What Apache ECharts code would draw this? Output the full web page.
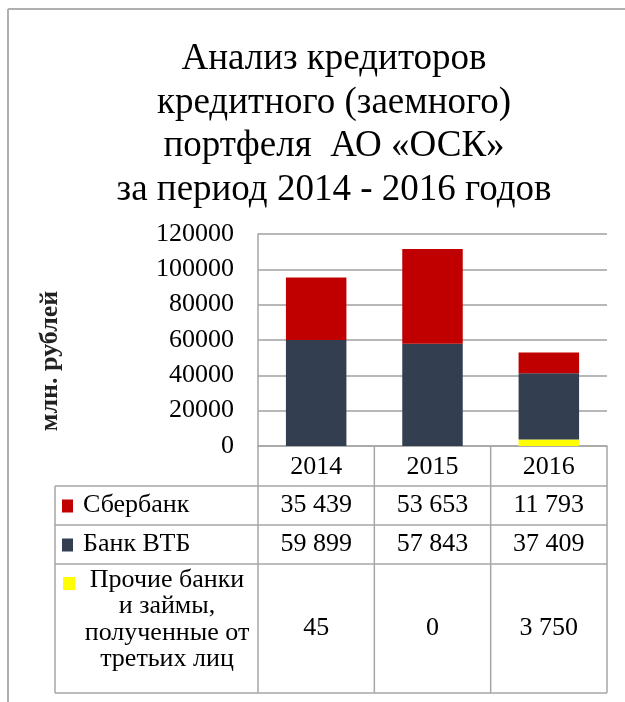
<!DOCTYPE html>
<html><head><meta charset="utf-8">
<script src="https://cdn.jsdelivr.net/npm/echarts@6/dist/echarts.min.js"></script>
<style>html,body{margin:0;padding:0;background:#fff}#c{width:625px;height:702px}</style>
</head><body><div id="c"></div>
<script>
const years = ['2014', '2015', '2016'];
const sberbank = [35439, 53653, 11793];
const vtb = [59899, 57843, 37409];
const other = [45, 0, 3750];
const seriesNames = ['Сбербанк', 'Банк ВТБ', 'Прочие банки\nи займы,\nполученные от\nтретьих лиц'];
const colors = ['#c00000', '#333f50', '#ffff00'];
const yTicks = [0, 20000, 40000, 60000, 80000, 100000, 120000];

const FONT = '"Liberation Serif", "Times New Roman", serif';
const chart = echarts.init(document.getElementById('c'), null, {renderer: 'canvas'});
const fmt = n => String(n).replace(/\B(?=(\d{3})+(?!\d))/g, ' ');

const L = 258, R = 607, T = 234, B = 446;
const tabLeft = 55;
const rowLines = [486, 525, 564, 693];
const colW = (R - L) / years.length;
const lineColor = '#a6a6a6';
const FS = 26;

const graphics = [];
graphics.push({type: 'line', shape: {x1: 8, y1: 9, x2: 625, y2: 9}, style: {stroke: '#b0b0b0', lineWidth: 2}});
graphics.push({type: 'line', shape: {x1: 8, y1: 9, x2: 8, y2: 702}, style: {stroke: '#b0b0b0', lineWidth: 2}});
rowLines.forEach(y => graphics.push({type: 'line', shape: {x1: tabLeft, y1: y, x2: R, y2: y}, style: {stroke: lineColor, lineWidth: 1.5}}));
graphics.push({type: 'line', shape: {x1: tabLeft, y1: rowLines[0], x2: tabLeft, y2: rowLines[3]}, style: {stroke: lineColor, lineWidth: 1.5}});
for (let i = 0; i <= years.length; i++) {
  const x = L + colW * i;
  graphics.push({type: 'line', shape: {x1: x, y1: B, x2: x, y2: rowLines[3]}, style: {stroke: lineColor, lineWidth: 1.5}});
}
const rowData = [sberbank, vtb, other];
const rowCenters = [(rowLines[0] + rowLines[1]) / 2, (rowLines[1] + rowLines[2]) / 2, (rowLines[2] + rowLines[3]) / 2];
rowData.forEach((arr, r) => {
  arr.forEach((v, i) => {
    graphics.push({type: 'text', x: L + colW * (i + 0.5), y: rowCenters[r],
      style: {text: fmt(v), font: FS + 'px ' + FONT, fill: '#000', textAlign: 'center', textVerticalAlign: 'middle'}});
  });
});
graphics.push({type: 'rect', shape: {x: 62, y: rowCenters[0] - 6, width: 11, height: 13}, style: {fill: colors[0]}});
graphics.push({type: 'text', x: 83, y: rowCenters[0], style: {text: seriesNames[0], font: FS + 'px ' + FONT, fill: '#000', textAlign: 'left', textVerticalAlign: 'middle'}});
graphics.push({type: 'rect', shape: {x: 62, y: rowCenters[1] - 6, width: 11, height: 13}, style: {fill: colors[1]}});
graphics.push({type: 'text', x: 83, y: rowCenters[1], style: {text: seriesNames[1], font: FS + 'px ' + FONT, fill: '#000', textAlign: 'left', textVerticalAlign: 'middle'}});
graphics.push({type: 'rect', shape: {x: 63, y: 577, width: 12, height: 13}, style: {fill: colors[2]}});
graphics.push({type: 'text', x: 167, y: rowCenters[2] - 9, style: {text: seriesNames[2], font: FS + 'px ' + FONT, lineHeight: 26.5, fill: '#000', textAlign: 'center', textVerticalAlign: 'middle'}});
graphics.push({type: 'text', x: 50, y: 361, rotation: Math.PI / 2,
  style: {text: 'млн. рублей', font: 'bold 26px ' + FONT, fill: '#222', textAlign: 'center', textVerticalAlign: 'middle'}});

const option = {
  backgroundColor: '#fff',
  animation: false,
  title: {
    text: 'Анализ кредиторов\nкредитного (заемного)\nпортфеля  АО «ОСК»\nза период 2014 - 2016 годов',
    left: 329, top: 33, textAlign: 'center',
    textStyle: {fontFamily: FONT, fontSize: 37, fontWeight: 'normal', color: '#000', lineHeight: 43.5}
  },
  grid: {left: L, right: 625 - R, top: T, bottom: 702 - B, containLabel: false},
  xAxis: {
    type: 'category', data: years,
    axisLine: {show: true, lineStyle: {color: lineColor, width: 1.5}},
    axisTick: {show: false},
    axisLabel: {fontFamily: FONT, fontSize: FS, color: '#000', margin: 8}
  },
  yAxis: {
    type: 'value', min: yTicks[0], max: yTicks[yTicks.length - 1], interval: yTicks[1] - yTicks[0],
    axisLine: {show: true, lineStyle: {color: lineColor, width: 1.5}},
    axisTick: {show: false},
    splitLine: {lineStyle: {color: '#a0a0a0', width: 1.5}},
    axisLabel: {fontFamily: FONT, fontSize: FS, color: '#000', margin: 24, formatter: v => String(v)}
  },
  series: [
    {name: 'Прочие', type: 'bar', stack: 'a', data: other, itemStyle: {color: colors[2]}, barWidth: '52%'},
    {name: 'ВТБ', type: 'bar', stack: 'a', data: vtb, itemStyle: {color: colors[1]}},
    {name: 'Сбербанк', type: 'bar', stack: 'a', data: sberbank, itemStyle: {color: colors[0]}}
  ],
  graphic: graphics
};
chart.setOption(option);
</script></body></html>
